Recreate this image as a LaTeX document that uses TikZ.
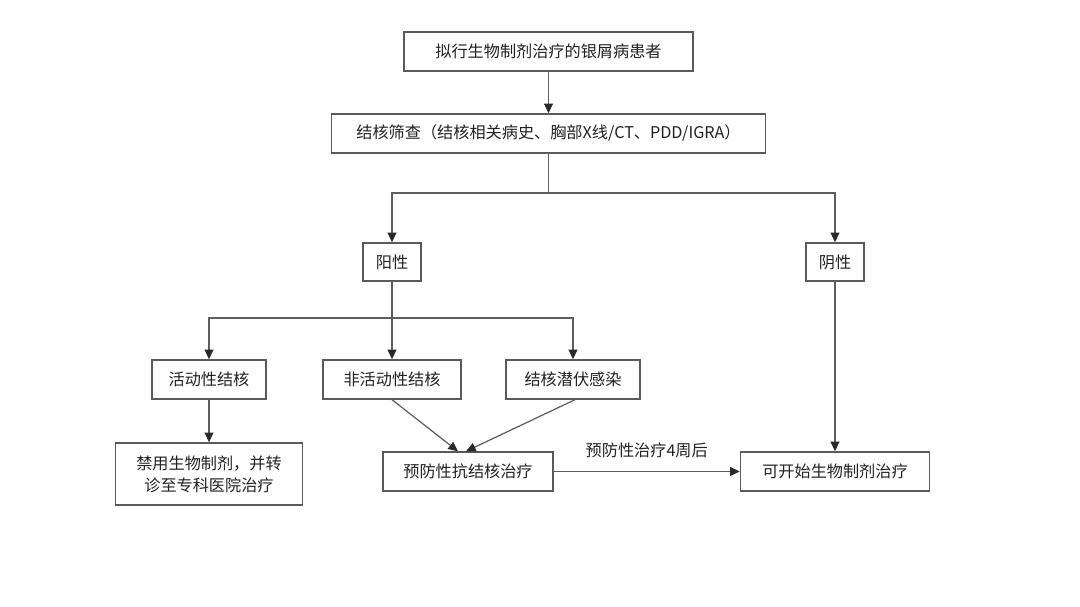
\documentclass[tikz,border=0pt]{standalone}
\usepackage{fontspec}
\setmainfont{Noto Sans CJK SC}
\usetikzlibrary{arrows.meta}
\definecolor{boxline}{HTML}{5A5A5A}
\definecolor{conline}{HTML}{5E5E5E}
\definecolor{tipcol}{HTML}{2A2A2A}
\definecolor{txt}{HTML}{222222}
\begin{document}
\begin{tikzpicture}[x=0.02cm,y=-0.02cm,
  box/.style={draw=boxline,line width=0.8pt,fill=white,inner sep=0pt,text=txt,font=\fontsize{9.2}{12.5}\selectfont,align=center},
  con/.style={draw=conline,line width=0.7pt},
  arr/.style={con,-{Triangle[length=5.5pt,width=5pt,color=tipcol]}}]
\useasboundingbox (0,0) rectangle (1080,607);
\node[box,minimum width=289*0.02cm,minimum height=39*0.02cm] (n1) at (548.5,51.5) {拟行生物制剂治疗的银屑病患者};
\node[box,minimum width=434*0.02cm,minimum height=39*0.02cm] (n2) at (548.5,133.5) {结核筛查（结核相关病史、胸部X线/CT、PDD/IGRA）};
\node[box,minimum width=58*0.02cm,minimum height=38*0.02cm] (pos) at (392,262) {阳性};
\node[box,minimum width=58*0.02cm,minimum height=38*0.02cm] (neg) at (835,262) {阴性};
\node[box,minimum width=114*0.02cm,minimum height=39*0.02cm] (act) at (209,379.5) {活动性结核};
\node[box,minimum width=138*0.02cm,minimum height=39*0.02cm] (inact) at (392,379.5) {非活动性结核};
\node[box,minimum width=134*0.02cm,minimum height=39*0.02cm] (lat) at (573,379.5) {结核潜伏感染};
\node[box,minimum width=187*0.02cm,minimum height=62*0.02cm] (ban) at (209,474) {禁用生物制剂，并转\\诊至专科医院治疗};
\node[box,minimum width=170*0.02cm,minimum height=39*0.02cm] (prev) at (468,471.5) {预防性抗结核治疗};
\node[box,minimum width=189*0.02cm,minimum height=39*0.02cm] (start) at (835,471.5) {可开始生物制剂治疗};

\coordinate (j1) at (548.5,193);
\coordinate (j2) at (392,318);
\draw[arr] (n1.south) -- (n2.north);
\draw[con] (n2.south) -- (j1);
\draw[arr] (j1) -| (pos.north);
\draw[arr] (j1) -| (neg.north);
\draw[con] (pos.south) -- (j2);
\draw[arr] (j2) -| (act.north);
\draw[arr] (j2) -- (inact.north);
\draw[arr] (j2) -| (lat.north);
\draw[arr] (act.south) -- (ban.north);
\draw[arr] (inact.south) -- ([xshift=-10*0.02cm]prev.north);
\draw[arr] ([xshift=2*0.02cm]lat.south) -- ([xshift=-2*0.02cm]prev.north);
\draw[arr] (neg.south) -- (start.north);
\draw[arr] (prev.east) -- node[above=4pt,text=txt,font=\fontsize{9.2}{12}\selectfont] (lbl) {预防性治疗4周后} (start.west);
\end{tikzpicture}
\end{document}
